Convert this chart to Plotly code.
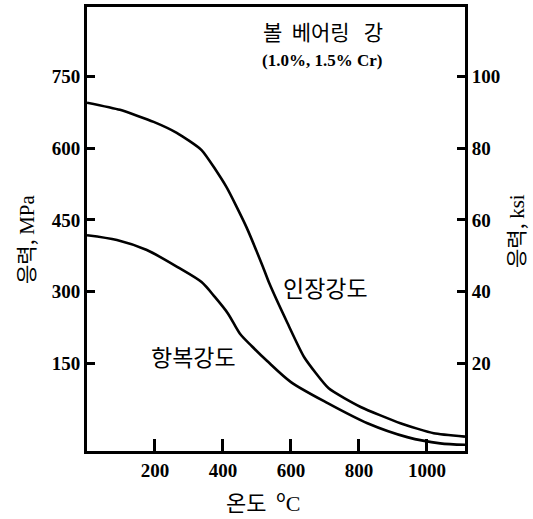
import plotly.graph_objects as go

# Data (temperature in °C, stress in MPa)
tensile_temp = [0, 97, 196, 264, 337, 410, 469, 518, 536, 590, 639, 711, 805, 922, 1020, 1112]
tensile_mpa = [695, 680, 655, 632, 596, 519, 435, 351, 318, 234, 163, 98, 59, 25, 4, -3]

yield_temp = [0, 88, 176, 272, 337, 376, 415, 450, 485, 530, 600, 708, 825, 942, 1039, 1112]
yield_mpa = [418, 408, 387, 349, 320, 289, 254, 212, 186, 155, 111, 67, 25, -4, -17, -20]

x_ticks = [200, 400, 600, 800, 1000]
mpa_ticks = [150, 300, 450, 600, 750]
ksi_ticks = [20, 40, 60, 80, 100]
MPA_PER_KSI_SCALE = 7.5  # as drawn: 20 ksi aligned with 150 MPa

y_range = [-33, 895]
x_range = [0, 1112]

serif = "Liberation Serif"
kfont = "Noto Sans CJK KR"

fig = go.Figure()
fig.add_trace(go.Scatter(x=tensile_temp, y=tensile_mpa, mode="lines",
                         line=dict(color="black", width=2.6, shape="spline", smoothing=0.5),
                         hoverinfo="skip", showlegend=False))
fig.add_trace(go.Scatter(x=yield_temp, y=yield_mpa, mode="lines",
                         line=dict(color="black", width=2.6, shape="spline", smoothing=0.8),
                         hoverinfo="skip", showlegend=False))
# invisible trace to carry the ksi axis
fig.add_trace(go.Scatter(x=tensile_temp, y=[v / MPA_PER_KSI_SCALE for v in tensile_mpa],
                         yaxis="y2", mode="lines", line=dict(width=0, color="rgba(0,0,0,0)"),
                         hoverinfo="skip", showlegend=False))

tickfont = dict(family=serif, size=19, color="black", weight="bold")
common = dict(tickcolor="black", showline=True, linewidth=3, linecolor="black",
              showgrid=False, zeroline=False, tickfont=tickfont, automargin=False)

fig.update_layout(
    width=533, height=519,
    margin=dict(l=87, r=68, t=7, b=68),
    plot_bgcolor="white", paper_bgcolor="white",
    xaxis=dict(range=x_range, tickvals=x_ticks, ticks="inside", ticklen=12, tickwidth=3,
               mirror=True, **common),
    yaxis=dict(range=y_range, tickvals=mpa_ticks, ticks="inside", ticklen=8, tickwidth=3,
               mirror=True, **common),
    yaxis2=dict(range=[y_range[0] / MPA_PER_KSI_SCALE, y_range[1] / MPA_PER_KSI_SCALE],
                tickvals=ksi_ticks, overlaying="y", side="right", ticks="inside", ticklen=8,
                tickwidth=3, **common),
)

# annotations placed in pixel terms, converted to paper coords
L, R, T, B = 87, 465, 7, 451
NB = "\u00a0"
SERIF_SPAN = '<span style="font-family:Liberation Serif;color:black">{}</span>'
texts = [
    ("볼" + NB * 2 + "베어링" + NB * 3 + "강", 323, 31, dict(family=kfont, size=21, color="black"), 0),
    ("(1.0%, 1.5% Cr)", 322, 61, dict(family=serif, size=17, color="black", weight="bold"), 0),
    ("인장강도", 325, 287, dict(family=kfont, size=23, color="black"), 0),
    ("항복강도", 193, 356, dict(family=kfont, size=23, color="black"), 0),
    ("온도" + NB * 2 + "<sup>o</sup>" + SERIF_SPAN.format("C"), 263, 500,
     dict(family=kfont, size=22, color="black"), 0),
    ("응력," + NB + SERIF_SPAN.format("MPa"), 25, 239, dict(family=kfont, size=21, color="black"), -90),
    ("응력," + NB + SERIF_SPAN.format("ksi"), 515, 231, dict(family=kfont, size=21, color="black"), -90),
]
anns = []
for txt, px, py, fnt, ang in texts:
    anns.append(dict(text=txt, xref="paper", yref="paper",
                     x=(px - L) / (R - L), y=(B - py) / (B - T),
                     xanchor="center", yanchor="middle", showarrow=False,
                     font=fnt, textangle=ang))
fig.update_layout(annotations=anns)

fig.write_html("out.html", config={"displayModeBar": False},
               post_script="document.body.style.margin='0';document.body.style.padding='0';")
